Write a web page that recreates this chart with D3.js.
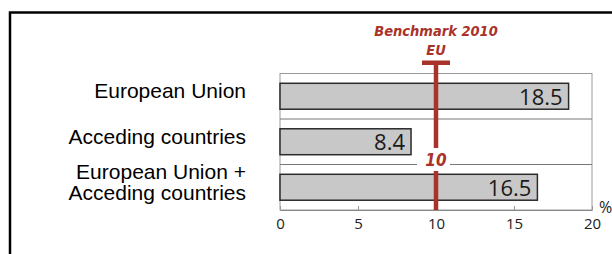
<!DOCTYPE html>
<html>
<head>
<meta charset="utf-8">
<script src="https://cdn.jsdelivr.net/npm/d3@7"></script>
<style>
  body { margin: 0; background: #fff; }
  svg { display: block; }
</style>
</head>
<body>
<svg id="chart"></svg>
<script>
// data
const categories = [
  ["European Union"],
  ["Acceding countries"],
  ["European Union +", "Acceding countries"]
];
const values = [18.5, 8.4, 16.5];
const xTicks = [0, 5, 10, 15, 20];
const benchmark = 10;
const benchmarkTitle = ["Benchmark 2010", "EU"];

const width = 612, height = 254;
const red = "#a9322a";
const condensed = "'Liberation Sans Narrow', 'DejaVu Sans Condensed', sans-serif";

const svg = d3.select("#chart")
  .attr("width", width)
  .attr("height", height);

// outer black frame (only top + left visible)
svg.append("path")
  .attr("d", `M10,${height} V12.5 H${width}`)
  .attr("fill", "none")
  .attr("stroke", "#000")
  .attr("stroke-width", 2.5);

const x = d3.scaleLinear().domain([0, 20]).range([280, 592]);
const y = d3.scaleBand().domain(d3.range(values.length)).range([73.5, 210]).padding(0);
const barH = y.bandwidth() * 0.57;

// plot frame
const frame = svg.append("g");
frame.append("rect")
  .attr("x", x(0)).attr("y", y.range()[0])
  .attr("width", x(20) - x(0)).attr("height", y.range()[1] - y.range()[0])
  .attr("fill", "none")
  .attr("stroke", "#9a9a9a")
  .attr("stroke-width", 1);

// row separators
frame.selectAll("line.sep")
  .data(d3.range(1, values.length))
  .join("line")
  .attr("class", "sep")
  .attr("x1", x(0)).attr("x2", x(20))
  .attr("y1", d => y(d)).attr("y2", d => y(d))
  .attr("stroke", "#777")
  .attr("stroke-width", 1);

// x axis
const xAxis = d3.axisBottom(x)
  .tickValues(xTicks)
  .tickSize(0)
  .tickPadding(8);
const axisG = svg.append("g")
  .attr("transform", `translate(0,210)`)
  .call(xAxis);
axisG.select(".domain").attr("stroke", "#888");
axisG.selectAll(".tick text")
  .attr("font-family", "'Open Sans', sans-serif")
  .attr("font-size", 15)
  .attr("fill", "#222");
// small inner ticks
axisG.selectAll(".tick")
  .append("line")
  .attr("y1", 0).attr("y2", -4)
  .attr("stroke", "#999");

svg.append("text")
  .attr("x", 599).attr("y", 213)
  .attr("font-family", "'Open Sans', sans-serif")
  .attr("font-size", 16)
  .attr("fill", "#222")
  .text("%");

// bars
svg.selectAll("rect.bar")
  .data(values)
  .join("rect")
  .attr("class", "bar")
  .attr("x", x(0))
  .attr("y", (d, i) => y(i) + (y.bandwidth() - barH) / 2)
  .attr("width", d => x(d) - x(0))
  .attr("height", barH)
  .attr("fill", "#c8c8c8")
  .attr("stroke", "#2b2b2b")
  .attr("stroke-width", 1.5);

svg.selectAll("text.val")
  .data(values)
  .join("text")
  .attr("class", "val")
  .attr("x", d => x(d) - 6)
  .attr("y", (d, i) => y(i) + y.bandwidth() / 2 + 8.5)
  .attr("text-anchor", "end")
  .attr("font-family", "'Open Sans', sans-serif")
  .attr("font-size", 22)
  .attr("fill", "#1a1a1a")
  .text(d => d.toFixed(1));

// category labels
const lab = svg.selectAll("text.cat")
  .data(categories)
  .join("text")
  .attr("class", "cat")
  .attr("text-anchor", "end")
  .attr("font-family", "'Liberation Sans', Arial, sans-serif")
  .attr("font-size", 21)
  .attr("fill", "#000");
lab.each(function (lines, i) {
  const cy = y(i) + y.bandwidth() / 2 + 2;
  d3.select(this).selectAll("tspan")
    .data(lines)
    .join("tspan")
    .attr("x", 246)
    .attr("y", (l, j) => cy + (j - (lines.length - 1) / 2) * 21.5)
    .text(l => l);
});

// benchmark marker
const bx = x(benchmark);
const bm = svg.append("g");
bm.append("rect")
  .attr("x", bx - 14).attr("y", 60.5)
  .attr("width", 28).attr("height", 4.5)
  .attr("fill", red);
bm.append("line")
  .attr("x1", bx).attr("x2", bx)
  .attr("y1", 62).attr("y2", 148)
  .attr("stroke", red).attr("stroke-width", 4.5);
bm.append("line")
  .attr("x1", bx).attr("x2", bx)
  .attr("y1", 171).attr("y2", 210)
  .attr("stroke", red).attr("stroke-width", 4.5);
bm.append("rect")
  .attr("x", bx - 19).attr("y", 151)
  .attr("width", 33).attr("height", 18)
  .attr("fill", "#fff");
bm.append("text")
  .attr("x", bx).attr("y", 166)
  .attr("text-anchor", "middle")
  .attr("font-family", condensed)
  .attr("font-style", "italic")
  .attr("font-weight", "bold")
  .attr("font-size", 17)
  .attr("fill", red)
  .text(benchmark);

bm.selectAll("text.bt")
  .data(benchmarkTitle)
  .join("text")
  .attr("class", "bt")
  .attr("x", bx)
  .attr("y", (d, i) => 36 + i * 19)
  .attr("text-anchor", "middle")
  .attr("font-family", condensed)
  .attr("font-style", "italic")
  .attr("font-weight", "bold")
  .attr("font-size", 14.5)
  .attr("fill", red)
  .text(d => d);
</script>
</body>
</html>
